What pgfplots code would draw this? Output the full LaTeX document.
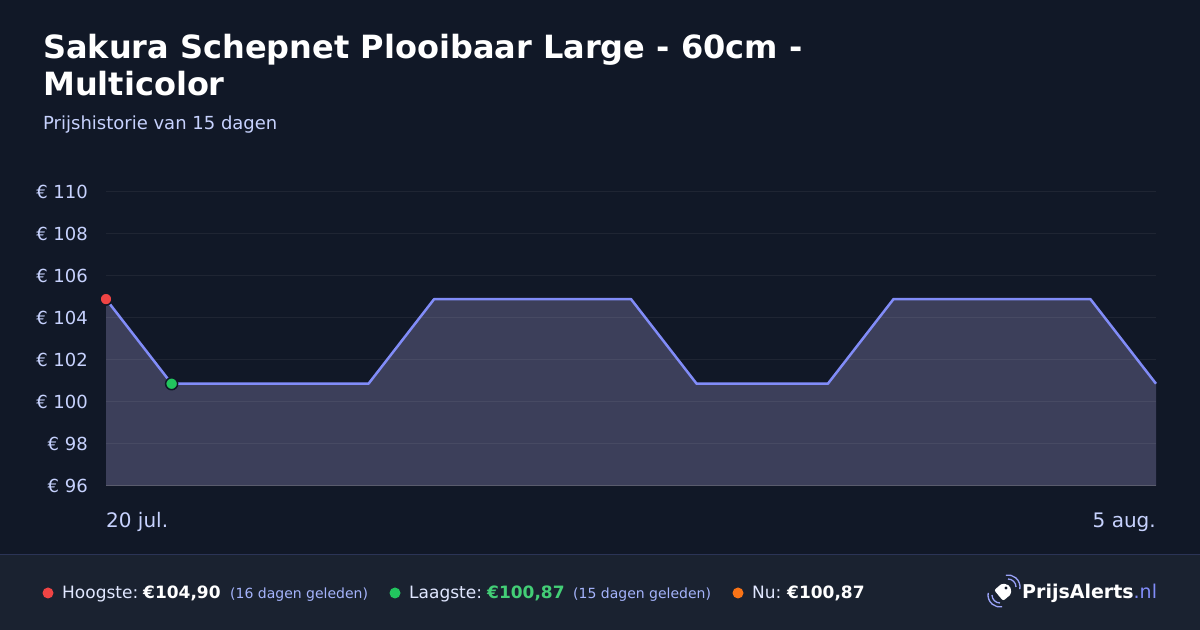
\documentclass[border=0pt]{standalone}
\usepackage{fontspec}
\setmainfont{DejaVu Sans}
\usepackage{pgfplots}
\pgfplotsset{compat=1.18}

\definecolor{bg}{HTML}{111827}
\definecolor{footbg}{HTML}{1A2230}
\definecolor{footline}{HTML}{2B3456}
\definecolor{subtxt}{HTML}{C7D2FE}
\definecolor{smalltxt}{HTML}{A5B4FC}
\definecolor{foottxt}{HTML}{E0E7FF}
\definecolor{linecol}{HTML}{818CF8}
\definecolor{areafill}{HTML}{3C3F5A}
\definecolor{hi}{HTML}{EF4444}
\definecolor{lo}{HTML}{22C55E}
\definecolor{now}{HTML}{F97316}

\newcommand{\fs}[1]{\fontsize{#1bp}{#1bp}\selectfont}

\begin{document}
\begin{tikzpicture}[x=1bp,y=1bp]
\useasboundingbox (0,0) rectangle (1200,630);
\fill[bg] (0,0) rectangle (1200,630);
\fill[footbg] (0,0) rectangle (1200,75);
\draw[footline, line width=1bp] (0,75) -- (1200,75);

% titles
\node[anchor=base west, inner sep=0, text=white, font=\fs{32}\bfseries] at (43,571) {Sakura Schepnet Plooibaar Large - 60cm -};
\node[anchor=base west, inner sep=0, text=white, font=\fs{32}\bfseries] at (43,534) {Multicolor};
\node[anchor=base west, inner sep=0, text=subtxt, font=\fs{18}] at (43,500) {Prijshistorie van 15 dagen};

\begin{axis}[
    at={(106bp,144bp)}, anchor=south west,
    scale only axis, width=1050bp, height=294bp,
    xmin=0, xmax=16, ymin=96, ymax=110,
    clip=false, axis on top,
    axis x line=bottom, axis y line=left,
    x axis line style={draw=gray, draw opacity=0.35, line width=1bp, -},
    y axis line style={draw=none},
    xtick=\empty,
    ytick={96,98,...,110},
    yticklabels={€ 96,€ 98,€ 100,€ 102,€ 104,€ 106,€ 108,€ 110},
    major tick length=0pt,
    yticklabel style={inner sep=0pt, anchor=east, xshift=-18bp, text=subtxt, font=\fs{18}},
    ymajorgrids,
    major grid style={draw=white, draw opacity=0.06, line width=1bp},
]
\addplot[fill=areafill, draw=none] coordinates {
    (0,104.90)(1,100.87)(2,100.87)(3,100.87)(4,100.87)(5,104.90)(6,104.90)(7,104.90)(8,104.90)
    (9,100.87)(10,100.87)(11,100.87)(12,104.90)(13,104.90)(14,104.90)(15,104.90)(16,100.87)
} \closedcycle;
\addplot[linecol, line width=2.5bp, line join=round] coordinates {
    (0,104.90)(1,100.87)(2,100.87)(3,100.87)(4,100.87)(5,104.90)(6,104.90)(7,104.90)(8,104.90)
    (9,100.87)(10,100.87)(11,100.87)(12,104.90)(13,104.90)(14,104.90)(15,104.90)(16,100.87)
};
\addplot[only marks, mark=*, mark size=6bp, mark options={fill=hi, draw=bg, line width=1.5bp}] coordinates {(0,104.90)};
\addplot[only marks, mark=*, mark size=6bp, mark options={fill=lo, draw=bg, line width=1.5bp}] coordinates {(1,100.87)};
\node[anchor=base west, inner sep=0, text=subtxt, font=\fs{20}, yshift=-42bp] at (axis cs:0,96) {20 jul.};
\node[anchor=base east, inner sep=0, text=subtxt, font=\fs{20}, yshift=-42bp] at (axis cs:16,96) {5 aug.};
\end{axis}

% footer
\fill[hi] (48,37) circle (5.5);
\node[anchor=base west, inner sep=0, text=foottxt, font=\fs{17}] at (62,31) {Hoogste:};
\node[anchor=base west, inner sep=0, text=white, font=\fs{17}\bfseries] at (143,31) {€104,90};
\node[anchor=base west, inner sep=0, text=smalltxt, font=\fs{14}] at (230,31) {(16 dagen geleden)};

\fill[lo] (395,37) circle (5.5);
\node[anchor=base west, inner sep=0, text=foottxt, font=\fs{17}] at (409,31) {Laagste:};
\node[anchor=base west, inner sep=0, text=lo!85!white, font=\fs{17}\bfseries] at (487,31) {€100,87};
\node[anchor=base west, inner sep=0, text=smalltxt, font=\fs{14}] at (573,31) {(15 dagen geleden)};

\fill[now] (738,37) circle (5.5);
\node[anchor=base west, inner sep=0, text=foottxt, font=\fs{17}] at (752,31) {Nu:};
\node[anchor=base west, inner sep=0, text=white, font=\fs{17}\bfseries] at (787,31) {€100,87};

% logo
\fill[white, rounded corners=2bp, rotate around={40:(1004,39)}] (997,32) -- (1008,32) -- (1012,39) -- (1008,46) -- (997,46) -- cycle;
\fill[bg] (1006,42) circle (1.6);
\draw[linecol!80!white, line width=1.3bp] (1000,35) ++(180:8) arc (180:270:8);
\draw[linecol!80!white, line width=1.3bp] (1000,35) ++(170:12) arc (170:280:12);
\draw[linecol!80!white, line width=1.3bp] (1008,43) ++(0:8) arc (0:90:8);
\draw[linecol!80!white, line width=1.3bp] (1008,43) ++(-10:12) arc (-10:100:12);
\node[anchor=base west, inner sep=0, text=white, font=\fs{19}] at (1022,31) {\textbf{PrijsAlerts}\textcolor{linecol}{.nl}};
\end{tikzpicture}
\end{document}
